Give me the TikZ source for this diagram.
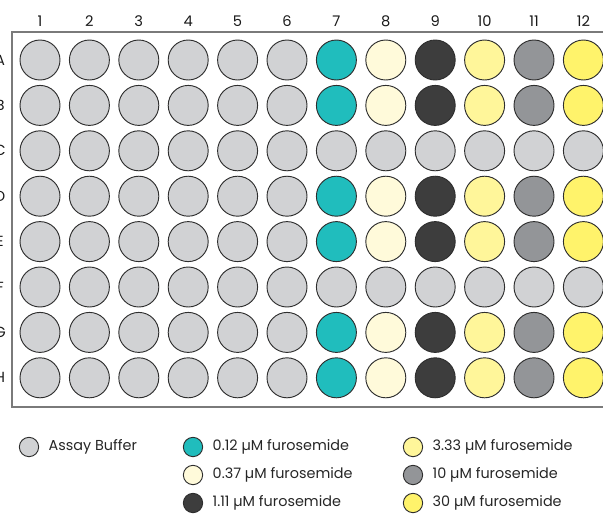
\documentclass[tikz,border=0pt]{standalone}
\usepackage{fontspec}
\setmainfont{Poppins}
\usetikzlibrary{positioning}
\definecolor{buffer}{HTML}{D1D2D4}
\definecolor{doseA}{HTML}{20BDBD}
\definecolor{doseB}{HTML}{FFFADA}
\definecolor{doseC}{HTML}{3D3D3D}
\definecolor{doseD}{HTML}{FFF69A}
\definecolor{doseE}{HTML}{939598}
\definecolor{doseF}{HTML}{FFF36B}
\definecolor{wellline}{HTML}{2E2E2E}
\definecolor{framegray}{HTML}{7A7A7A}

\begin{document}
\begin{tikzpicture}[
  x=0.75pt, y=-0.75pt,
  well/.style={circle, draw=wellline, line width=0.7pt, inner sep=0pt, minimum size=30pt},
  key/.style={circle, draw=wellline, line width=0.7pt, inner sep=0pt, minimum size=14.5pt},
  keytext/.style={right=7pt of #1, inner sep=0pt, font=\fontsize{10.8}{12}\selectfont, text=black!85},
  platelabel/.style={inner sep=0pt, font=\fontsize{11}{12}\selectfont, text=black!90}
]
  \useasboundingbox (0,0) rectangle (603,515);
  % plate frame
  \draw[framegray, line width=1.1pt] (620,32) -- (12,32) -- (12,407) -- (620,407);
  % column numbers
  \foreach \c in {1,...,12}
    \node[platelabel] (col\c) at ({40+(\c-1)*49.4},21) {\c};
  % wells, row by row
  \foreach \r/\dosed [count=\i from 0] in {A/1,B/1,C/0,D/1,E/1,F/0,G/1,H/1} {
    \node[platelabel] (row\r) at (0,{60+\i*45.4}) {\r};
    \foreach \c/\dose in {1/buffer,2/buffer,3/buffer,4/buffer,5/buffer,6/buffer,
                          7/doseA,8/doseB,9/doseC,10/doseD,11/doseE,12/doseF} {
      \ifnum\dosed=1 \def\wellfill{\dose}\else\def\wellfill{buffer}\fi
      \node[well, fill=\wellfill] (\r\c) at ({40+(\c-1)*49.4},{60+\i*45.4}) {};
    }
  }
  % legend
  \node[key, fill=buffer] (keybuffer) at (29,447) {};
  \node[keytext=keybuffer] (txtbuffer) {Assay Buffer};
  \node[key, fill=doseA] (keyA) at (193,447) {};
  \node[keytext=keyA] (txtA) {0.12 µM furosemide};
  \node[key, fill=doseB] (keyB) at (193,475) {};
  \node[keytext=keyB] (txtB) {0.37 µM furosemide};
  \node[key, fill=doseC] (keyC) at (193,503) {};
  \node[keytext=keyC] (txtC) {1.11 µM furosemide};
  \node[key, fill=doseD] (keyD) at (413,447) {};
  \node[keytext=keyD] (txtD) {3.33 µM furosemide};
  \node[key, fill=doseE] (keyE) at (413,475) {};
  \node[keytext=keyE] (txtE) {10 µM furosemide};
  \node[key, fill=doseF] (keyF) at (413,503) {};
  \node[keytext=keyF] (txtF) {30 µM furosemide};
\end{tikzpicture}
\end{document}
